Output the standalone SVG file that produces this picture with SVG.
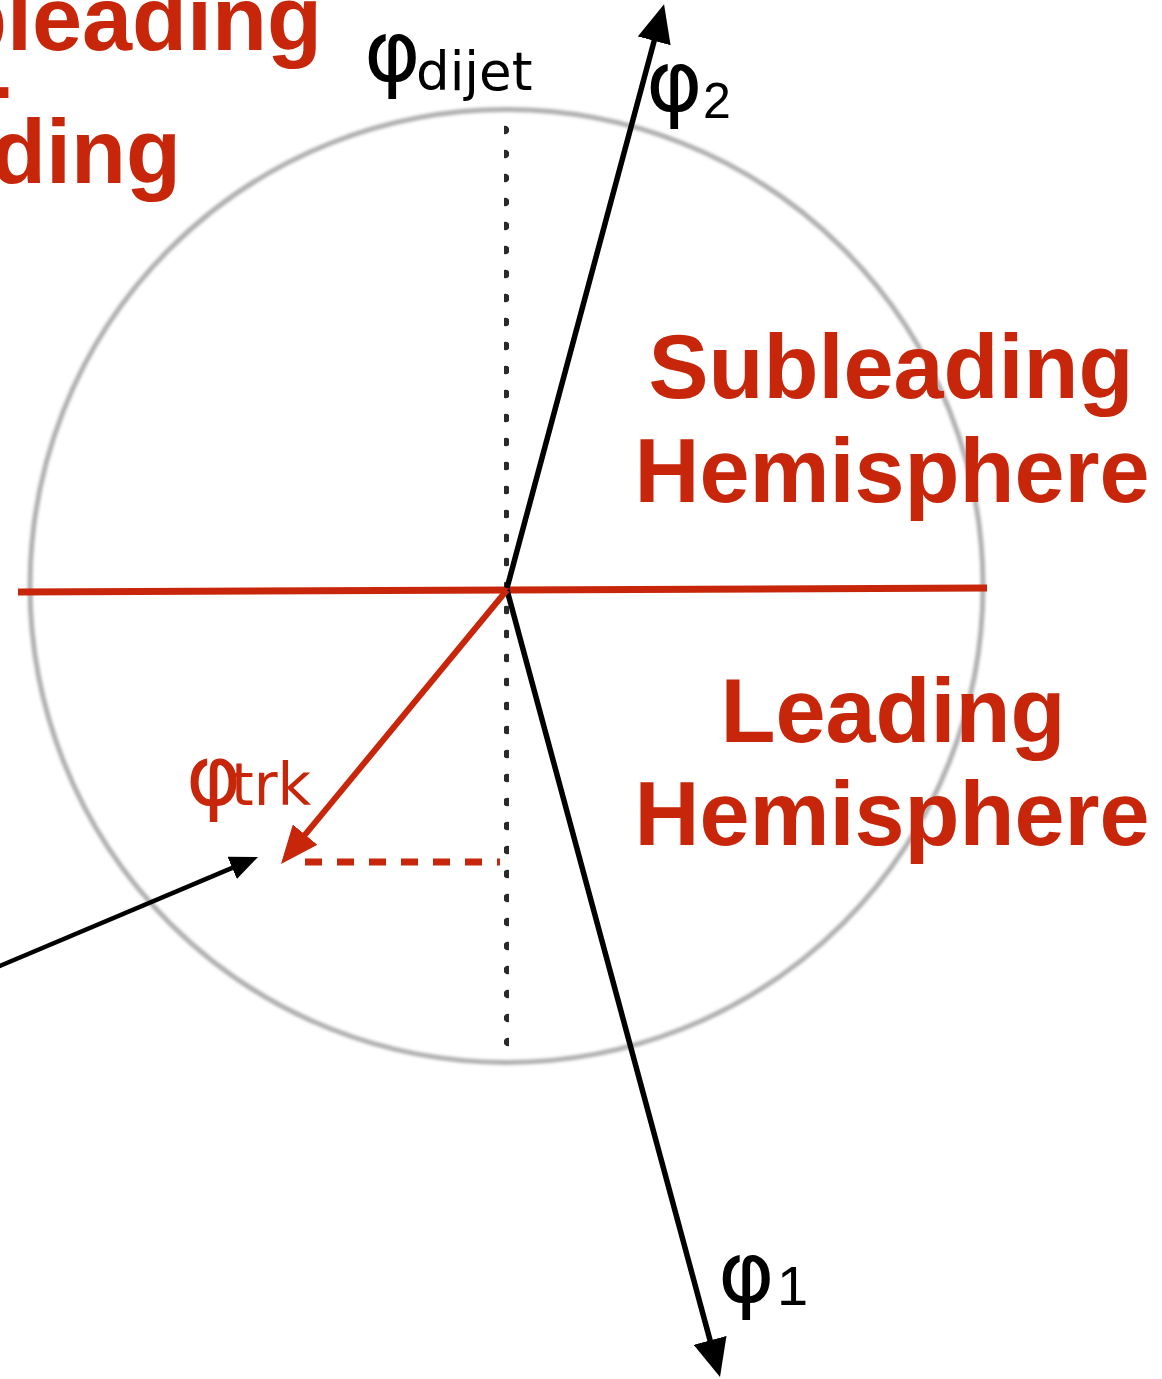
<svg xmlns="http://www.w3.org/2000/svg" width="1162" height="1379" viewBox="0 0 1162 1379">
<style>
.big{font-family:"Liberation Sans",Arial,sans-serif;font-weight:bold;font-size:90px;fill:#c8260a}
.lbl{font-family:"DejaVu Sans",sans-serif;fill:#000}
.dig{font-family:"Liberation Sans",Arial,sans-serif}
.red{fill:#c8260a}
</style>
<defs>
<filter id="soft" x="-10%" y="-10%" width="120%" height="120%"><feGaussianBlur stdDeviation="1.4"/></filter>
<filter id="soft2"><feGaussianBlur stdDeviation="0.5"/></filter>
<marker id="ah" viewBox="0 0 38 34" refX="2" refY="17" markerWidth="38" markerHeight="34" markerUnits="userSpaceOnUse" orient="auto"><path d="M0,0 L38,17 L0,34 Z" fill="#000"/></marker>
<marker id="ahs" viewBox="0 0 28 24" refX="2" refY="12" markerWidth="28" markerHeight="24" markerUnits="userSpaceOnUse" orient="auto"><path d="M0,0 L28,12 L0,24 Z" fill="#000"/></marker>
<marker id="ahr" viewBox="0 0 38 32" refX="2" refY="16" markerWidth="38" markerHeight="32" markerUnits="userSpaceOnUse" orient="auto"><path d="M0,0 L38,16 L0,32 Z" fill="#c8260a"/></marker>
</defs>
<rect width="1162" height="1379" fill="#fff"/>
<g id="circle">
<circle cx="506.5" cy="586" r="476.5" fill="none" stroke="#b0b0b0" stroke-width="5" filter="url(#soft)"/>
</g>
<g id="topleft-label">
<text class="big" x="322" y="50" text-anchor="end">Subleading</text>
<text class="big" x="12" y="116" text-anchor="end" font-size="80">-</text>
<text class="big" x="181" y="183" text-anchor="end">Leading</text>
</g>
<g id="subleading-label">
<text class="big" x="891" y="398" text-anchor="middle">Subleading</text>
<text class="big" x="892" y="502" text-anchor="middle">Hemisphere</text>
</g>
<g id="leading-label">
<text class="big" x="893" y="742" text-anchor="middle">Leading</text>
<text class="big" x="892" y="845" text-anchor="middle">Hemisphere</text>
</g>
<g id="connectors">
<line id="dijet-axis" x1="505" y1="130" x2="508" y2="1042" stroke="#2a2a2a" stroke-width="8.5" stroke-linecap="round" stroke-dasharray="0 24" filter="url(#soft2)"/>
<line id="divider" x1="18" y1="592" x2="987" y2="588" stroke="#c8260a" stroke-width="7"/>
<line id="jet2" x1="507" y1="588" x2="654.7" y2="38.9" stroke="#000" stroke-width="5.5" marker-end="url(#ah)"/>
<line id="jet1" x1="507" y1="590" x2="710.6" y2="1342.3" stroke="#000" stroke-width="5.5" marker-end="url(#ah)"/>
<line id="track" x1="507" y1="590" x2="303.9" y2="836.2" stroke="#c8260a" stroke-width="6" marker-end="url(#ahr)"/>
<line id="proj" x1="305" y1="862" x2="500" y2="862" stroke="#c8260a" stroke-width="7" stroke-dasharray="17 15"/>
<line id="pointer" x1="-5" y1="968" x2="234.05" y2="867.1" stroke="#000" stroke-width="4.5" marker-end="url(#ahs)"/>
</g>
<g id="phi-dijet">
<text class="lbl"><tspan x="364" y="81" font-size="86">φ</tspan><tspan x="416" y="90" font-size="53">dijet</tspan></text>
</g>
<g id="phi-2">
<text class="lbl"><tspan x="646" y="111" font-size="86">φ</tspan><tspan class="dig" x="703" y="118" font-size="50">2</tspan></text>
</g>
<g id="phi-1">
<text class="lbl"><tspan x="718" y="1302" font-size="86">φ</tspan><tspan class="dig" x="777" y="1305" font-size="56">1</tspan></text>
</g>
<g id="phi-trk">
<text class="lbl red"><tspan x="186" y="805" font-size="84">φ</tspan><tspan x="231" y="805" font-size="58">trk</tspan></text>
</g>
</svg>
